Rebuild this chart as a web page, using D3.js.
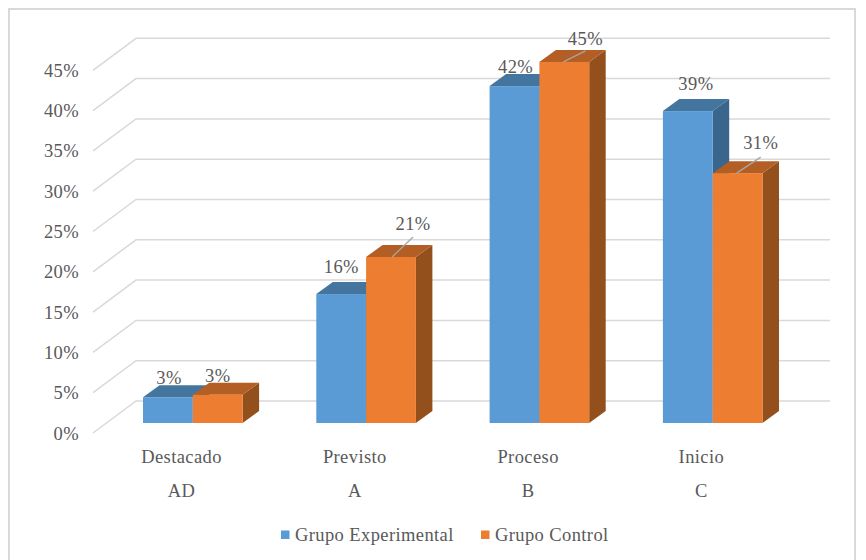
<!DOCTYPE html>
<html><head><meta charset="utf-8">
<script src="https://cdn.jsdelivr.net/npm/d3@7"></script>
<style>html,body{margin:0;background:#fff}svg{display:block}text{font-family:"Liberation Serif","Times New Roman",serif;fill:#595959;letter-spacing:.4px}</style>
</head><body><svg id="c" width="866" height="560"></svg>
<script>
const categories=["Destacado","Previsto","Proceso","Inicio"];
const subLabels=["AD","A","B","C"];
const seriesNames=["Grupo Experimental","Grupo Control"];
const experimental=[3.2,16,41.8,38.7];
const control=[3.5,20.6,44.8,31];
const labelExperimental=["3%","16%","42%","39%"];
const labelControl=["3%","21%","45%","31%"];
const ticks=[0,5,10,15,20,25,30,35,40,45];

const svg=d3.select("#c");
const DX=16.5,DY=12,FX=43,FY=32,FS=18.5;
const y=d3.scaleLinear().domain([0,45]).range([423,423-45*8.06]);
const x=d3.scaleBand().domain(categories).range([107,107+4*173.3]);
const barW=49.8;
const colors=[{f:"#5b9bd5",t:"#44759f",s:"#3a658c"},{f:"#ed7d31",t:"#b25e24",s:"#94501c"}];

svg.append("rect").attr("x",9).attr("y",9).attr("width",846).attr("height",570).attr("fill","#fff").attr("stroke","#d9d9d9").attr("stroke-width",2);

const gridY=v=>y(v)+10;
ticks.forEach(t=>{
  svg.append("path").attr("d",`M93,${gridY(t)}L${93+FX},${gridY(t)-FY}H830`)
    .attr("fill","none").attr("stroke","#d9d9d9").attr("stroke-width",1.5);
  svg.append("text").attr("x",79).attr("y",gridY(t)+6.5-(45-t)*-0.004).attr("text-anchor","end").attr("font-size",FS).text(t+"%");
});

function bar(g,x0,v,c){
  const yt=y(v),yb=y(0);
  g.append("path").attr("fill",c.s).attr("d",`M${x0+barW},${yb}V${yt}l${DX},${-DY}V${yb-DY}Z`);
  g.append("path").attr("fill",c.t).attr("d",`M${x0},${yt}l${DX},${-DY}H${x0+barW+DX}l${-DX},${DY}Z`);
  g.append("rect").attr("fill",c.f).attr("x",x0).attr("y",yt).attr("width",barW).attr("height",yb-yt);
}
categories.forEach((cat,i)=>{
  const g=svg.append("g");
  const x0=x(cat)+36;
  bar(g,x0,experimental[i],colors[0]);
  bar(g,x0+barW,control[i],colors[1]);
  const cx=x(cat)+74.5;
  svg.append("text").attr("x",cx).attr("y",462.5).attr("text-anchor","middle").attr("font-size",FS).text(cat);
  svg.append("text").attr("x",cx).attr("y",497).attr("text-anchor","middle").attr("font-size",FS).text(subLabels[i]);
});
// label placement relative to each bar's top-left corner: [dx, dy]
const placeE=[[26,-13],[25,-21],[26,-13],[33,-21]];
const placeC=[[25,-13],[47,-27],[46,-17],[48,-24]];
// leader lines for the control series: [x1, dx, dy]
const leaders=[null,[26,21,-20],[24,22,-11],[24,24,-16]];
categories.forEach((cat,i)=>{
  const x0=x(cat)+36,x1=x0+barW;
  const ye=y(experimental[i]),yc=y(control[i]);
  svg.append("text").attr("x",x0+placeE[i][0]).attr("y",ye+placeE[i][1]).attr("text-anchor","middle").attr("font-size",FS).text(labelExperimental[i]);
  svg.append("text").attr("x",x1+placeC[i][0]).attr("y",yc+placeC[i][1]).attr("text-anchor","middle").attr("font-size",FS).text(labelControl[i]);
  const l=leaders[i];
  if(l) svg.append("line").attr("x1",x1+l[0]).attr("y1",yc).attr("x2",x1+l[0]+l[1]).attr("y2",yc+l[2])
      .attr("stroke","#a6a6a6").attr("stroke-width",1.3);
});
// legend
[[281,0],[481,1]].forEach(([lx,k])=>{
  svg.append("rect").attr("x",lx).attr("y",530.5).attr("width",8.5).attr("height",8.5).attr("fill",colors[k].f);
  svg.append("text").attr("x",lx+14).attr("y",541).attr("font-size",FS).text(seriesNames[k]);
});
</script></body></html>
